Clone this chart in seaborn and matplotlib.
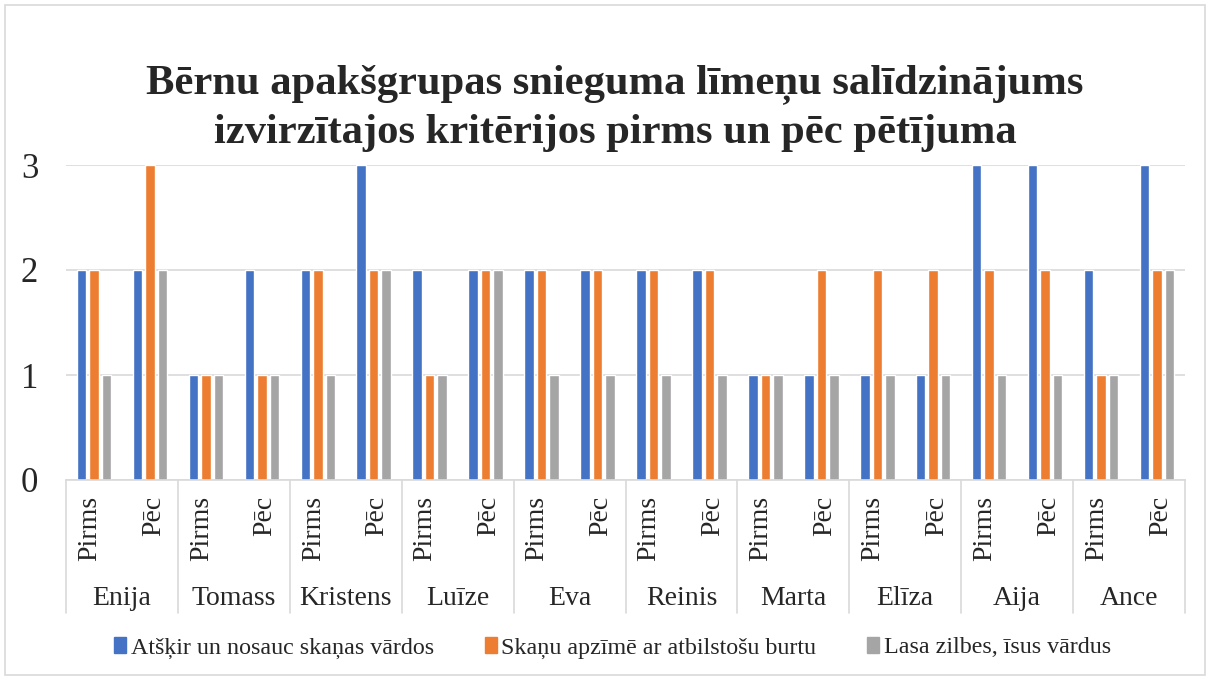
import numpy as np
import pandas as pd
import matplotlib
matplotlib.use("Agg")
import matplotlib.pyplot as plt
import seaborn as sns
from matplotlib.patches import Rectangle
from matplotlib.transforms import blended_transform_factory

# Dati
children = ["Enija", "Tomass", "Kristens", "Luīze", "Eva",
            "Reinis", "Marta", "Elīza", "Aija", "Ance"]
phases = ["Pirms", "Pēc"]
series = ["Atšķir un nosauc skaņas vārdos",
          "Skaņu apzīmē ar atbilstošu burtu",
          "Lasa zilbes, īsus vārdus"]

# vērtības: katram bērnam Pirms, Pēc
atskir = [2, 2, 1, 2, 2, 3, 2, 2, 2, 2, 2, 2, 1, 1, 1, 1, 3, 3, 2, 3]
apzime = [2, 3, 1, 1, 2, 2, 1, 2, 2, 2, 2, 2, 1, 2, 2, 2, 2, 2, 1, 2]
lasa = [1, 2, 1, 1, 1, 2, 1, 2, 1, 1, 1, 1, 1, 1, 1, 1, 1, 1, 1, 2]

colors = ["#4472C4", "#ED7D31", "#A5A5A5"]
title = "Bērnu apakšgrupas snieguma līmeņu salīdzinājums\nizvirzītajos kritērijos pirms un pēc pētījuma"

sns.set_theme(style="white")
plt.rcParams["font.family"] = ["Liberation Serif", "DejaVu Serif"]

keys = [f"{c}|{p}" for c in children for p in phases]
rows = []
for vals, name in zip([atskir, apzime, lasa], series):
    for k, v in zip(keys, vals):
        rows.append({"key": k, "series": name, "value": v})
df = pd.DataFrame(rows)

fig = plt.figure(figsize=(12.13, 6.77), dpi=100)
ax = fig.add_axes([66 / 1213, 1 - 480 / 677, (1185 - 66) / 1213, 315 / 677])

sns.barplot(data=df, x="key", y="value", hue="series", order=keys,
            hue_order=series, palette=colors, width=0.67, gap=0.24,
            saturation=1, ax=ax, legend=False)

ax.set_ylim(0, 3)
ax.set_xlim(-0.5, len(keys) - 0.5)
ax.set_yticks([0, 1, 2, 3])
ax.set_yticklabels(["0", "1", "2", "3"], fontsize=25)
ax.tick_params(axis="y", length=0, pad=20)
ax.tick_params(axis="x", length=0)
ax.set_xticks([])
ax.set_xlabel("")
ax.set_ylabel("")
ax.yaxis.grid(True, color="#d9d9d9", linewidth=1.2)
ax.set_axisbelow(True)
for s in ["top", "right", "left"]:
    ax.spines[s].set_visible(False)
ax.spines["bottom"].set_color("#d9d9d9")
ax.spines["bottom"].set_linewidth(1.2)

# daudzlīmeņu kategoriju ass
trans = blended_transform_factory(ax.transData, ax.transAxes)
for i in range(len(children) + 1):
    xb = i * 2 - 0.5
    ax.plot([xb, xb], [0, -0.422], transform=trans, color="#d9d9d9",
            linewidth=1.2, clip_on=False)
for i, k in enumerate(keys):
    shift = -0.08 if i % 2 == 0 else 0.06
    ax.text(i + shift, -0.05, k.split("|")[1], transform=trans, rotation=90,
            ha="center", va="top", fontsize=20)
for i, c in enumerate(children):
    ax.text(i * 2 + 0.5, -0.375, c, transform=trans, ha="center",
            va="center", fontsize=20)

fig.text(0.507, 1 - 108 / 677, title, ha="center", va="center",
         fontsize=30.7, fontweight="bold", linespacing=1.33)

handles = [Rectangle((0, 0), 1, 1, color=c) for c in colors]
fig.legend(handles, series, loc="center", bbox_to_anchor=(0.505, 1 - 648 / 677),
           ncol=3, frameon=False, fontsize=17.3, handlelength=0.5,
           handleheight=0.6, handletextpad=0.2, columnspacing=2.1)

fig.patches.append(Rectangle((5 / 1213, 0.003), 1200 / 1213, 0.99,
                             transform=fig.transFigure, fill=False,
                             edgecolor="#d9d9d9", linewidth=1.2))

fig.savefig("out.png", dpi=100)
